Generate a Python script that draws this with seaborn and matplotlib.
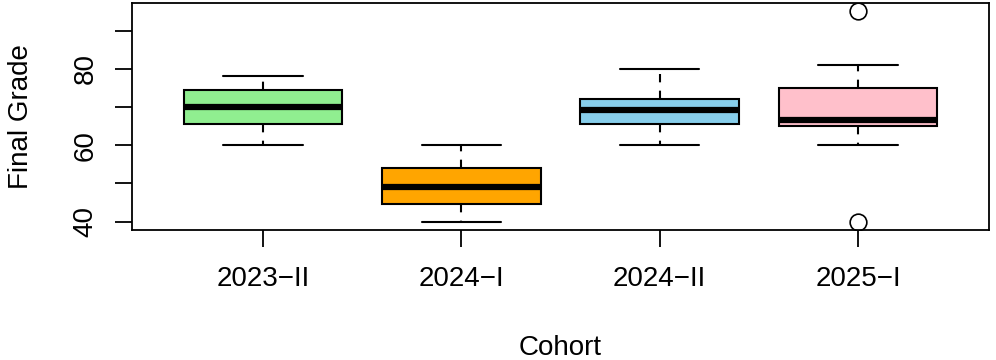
import matplotlib
matplotlib.use('Agg')
import matplotlib.pyplot as plt
import seaborn as sns
import pandas as pd

# ---------------------------------------------------------
# DATA (points chosen so the quartiles match the picture)
# ---------------------------------------------------------
cohorts = ["2023\u2212II", "2024\u2212I", "2024\u2212II", "2025\u2212I"]
grades_2023_ii = [60, 65.5, 70, 74.5, 78]
grades_2024_i  = [40, 44.5, 49, 54, 60]
grades_2024_ii = [60, 65.5, 69.2, 72, 80]
grades_2025_i  = [40, 60, 65, 65, 66.6, 75, 75, 81, 95]
box_colors = ["#90EE90", "#FFA500", "#87CEEB", "#FFC0CB"]
y_ticks = [40, 50, 60, 70, 80, 90]
y_labels = ["40", "", "60", "", "80", ""]

rows = []
for name, vals in zip(cohorts, [grades_2023_ii, grades_2024_i, grades_2024_ii, grades_2025_i]):
    rows += [(name, v) for v in vals]
df = pd.DataFrame(rows, columns=["cohort", "grade"])

# ---------------------------------------------------------
# PLOT
# ---------------------------------------------------------
sns.set_style("white")
plt.rcParams['font.family'] = ['Liberation Sans', 'DejaVu Sans']
plt.rcParams['text.color'] = 'black'
plt.rcParams['axes.labelcolor'] = 'black'

fig = plt.figure(figsize=(9.96, 3.6), dpi=100)
ax = fig.add_axes([132 / 996, 1 - 230 / 360, 857 / 996, 227 / 360])

sns.boxplot(data=df, x="cohort", y="grade", hue="cohort", order=cohorts,
            palette=dict(zip(cohorts, box_colors)), legend=False, saturation=1,
            width=0.8, linecolor="black", linewidth=1.5, whis=1.5, ax=ax,
            whiskerprops=dict(linestyle=(0, (4, 4)), linewidth=1.5),
            capprops=dict(linewidth=1.5),
            medianprops=dict(linewidth=4.5, color="black"),
            flierprops=dict(marker="o", markerfacecolor="white",
                            markeredgecolor="black", markersize=12,
                            markeredgewidth=1.2))

ax.set_xlim(-0.66, 3.66)
ax.set_ylim(37.8, 97.2)
ax.set_yticks(y_ticks)
ax.set_yticklabels(y_labels, rotation=90, va="center")
for s in ax.spines.values():
    s.set_visible(True)
    s.set_color("black")
    s.set_linewidth(1.3)
ax.tick_params(axis="both", direction="out", length=12, width=1.3,
               labelsize=20, colors="black", labelcolor="black",
               bottom=True, left=True)
ax.tick_params(axis="x", pad=14)
ax.tick_params(axis="y", pad=12)
ax.set_xlabel("Cohort", fontsize=20, labelpad=31)
ax.set_ylabel("Final Grade", fontsize=20, labelpad=28)

plt.savefig("out.png", dpi=100)
